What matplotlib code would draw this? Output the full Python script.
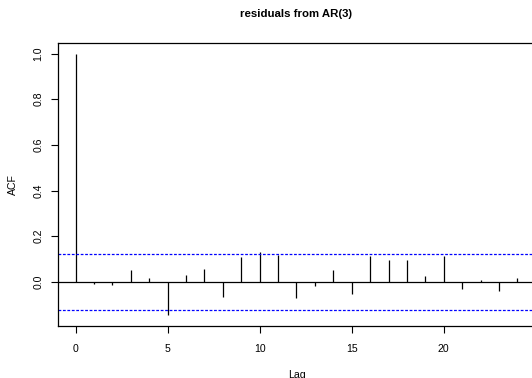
import matplotlib
matplotlib.use("Agg")
import matplotlib.pyplot as plt
import numpy as np

plt.rcParams['font.family'] = ['Liberation Sans', 'DejaVu Sans']
plt.rcParams['lines.scale_dashes'] = False

lags = list(range(0, 25))
acf_values = [1.0, -0.007, -0.012, 0.051, 0.015, -0.146, 0.032, 0.057, -0.066,
              0.108, 0.131, 0.118, -0.070, -0.018, 0.053, -0.053, 0.112, 0.098,
              0.095, 0.026, 0.115, -0.029, 0.009, -0.041, 0.019]
conf_limit = 0.123
x_ticks = [0, 5, 10, 15, 20]
y_ticks = [0.0, 0.2, 0.4, 0.6, 0.8, 1.0]
title = "residuals from AR(3)"

W, H = 532, 378
fig = plt.figure(figsize=(W / 100, H / 100), dpi=100)
left, right, top, bottom = 58, 535, 43, 326
ax = fig.add_axes([left / W, 1 - bottom / H, (right - left) / W, (bottom - top) / H])

ax.vlines(lags, 0, acf_values, colors='black', linewidth=0.9)
ax.axhline(0, color='black', linewidth=0.9)
ax.axhline(conf_limit, color='blue', linewidth=0.9, linestyle=(0, (2.0, 1.2)))
ax.axhline(-conf_limit, color='blue', linewidth=0.9, linestyle=(0, (2.0, 1.2)))

ax.set_xlim(-0.96, 24.96)
ax.set_ylim(-0.193, 1.046)
ax.set_xticks(x_ticks)
ax.set_xticklabels([str(t) for t in x_ticks])
ax.set_yticks(y_ticks)
ax.set_yticklabels([f"{t:.1f}" for t in y_ticks], rotation=90, va='center')

for s in ax.spines.values():
    s.set_linewidth(0.9)
    s.set_color('black')
ax.tick_params(direction='out', length=5, width=0.8, labelsize=7.6, pad=8)
ax.tick_params(axis='y', pad=5.5)

ax.set_xlabel("Lag", fontsize=7.6, labelpad=11.5)
ax.set_ylabel("ACF", fontsize=7.6, labelpad=11)
fig.text(296 / W, 1 - 14 / H, title, ha='center', va='center', fontsize=8.2, fontweight='bold')

fig.savefig("out.png", dpi=100)
